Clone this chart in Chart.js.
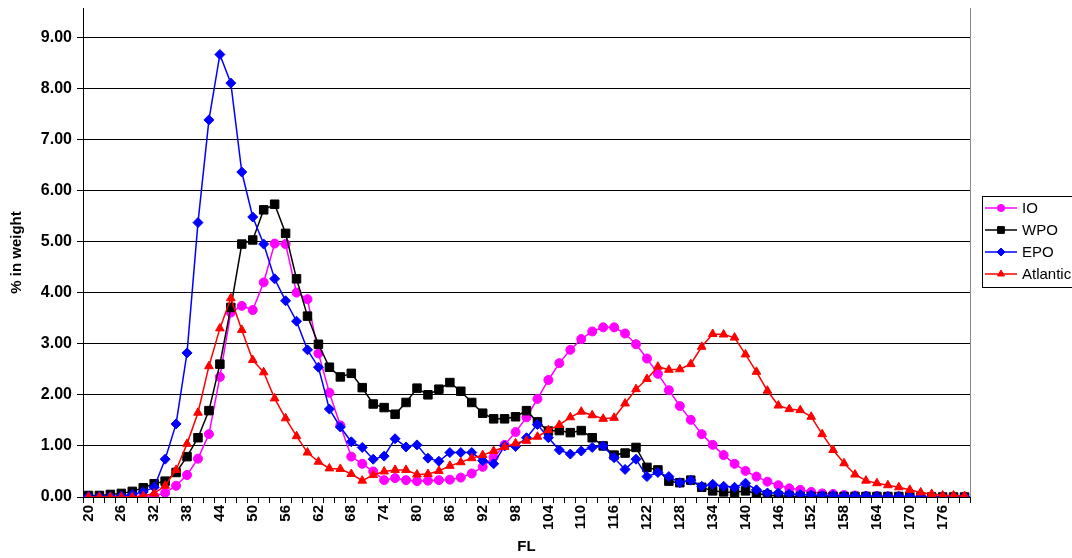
<!DOCTYPE html>
<html>
<head>
<meta charset="utf-8">
<script src="https://cdn.jsdelivr.net/npm/chart.js@4"></script>
<style>
  html, body { margin: 0; padding: 0; background: #fff; }
  canvas { display: block; }
</style>
</head>
<body>
<canvas id="flChart" width="1072" height="558"></canvas>
<script>
// FL classes (cm), every 2 cm
const fl = [20, 22, 24, 26, 28, 30, 32, 34, 36, 38, 40, 42, 44, 46, 48, 50, 52, 54, 56, 58,
  60, 62, 64, 66, 68, 70, 72, 74, 76, 78, 80, 82, 84, 86, 88, 90, 92, 94, 96, 98,
  100, 102, 104, 106, 108, 110, 112, 114, 116, 118, 120, 122, 124, 126, 128, 130, 132, 134, 136, 138,
  140, 142, 144, 146, 148, 150, 152, 154, 156, 158, 160, 162, 164, 166, 168, 170, 172, 174, 176, 178, 180];

// % in weight per series
const io = [0.00, 0.00, 0.00, 0.00, 0.00, 0.01, 0.02, 0.08, 0.22, 0.43, 0.75, 1.23, 2.35, 3.61, 3.74, 3.66, 4.20, 4.96, 4.95, 4.00,
  3.87, 2.81, 2.04, 1.40, 0.79, 0.65, 0.50, 0.33, 0.37, 0.33, 0.31, 0.32, 0.33, 0.34, 0.38, 0.46, 0.59, 0.78, 1.02, 1.27,
  1.56, 1.92, 2.29, 2.62, 2.88, 3.09, 3.24, 3.32, 3.32, 3.20, 2.99, 2.71, 2.41, 2.09, 1.78, 1.51, 1.23, 1.02, 0.82, 0.65,
  0.51, 0.40, 0.30, 0.23, 0.17, 0.14, 0.10, 0.07, 0.06, 0.04, 0.03, 0.02, 0.02, 0.01, 0.01, 0.01, 0.00, 0.00, 0.00, 0.00, 0.00];
const wpo = [0.03, 0.03, 0.05, 0.07, 0.11, 0.18, 0.26, 0.31, 0.48, 0.79, 1.16, 1.69, 2.60, 3.71, 4.95, 5.03, 5.62, 5.73, 5.16, 4.27,
  3.54, 2.99, 2.54, 2.35, 2.42, 2.14, 1.82, 1.75, 1.62, 1.85, 2.13, 2.00, 2.11, 2.24, 2.07, 1.85, 1.64, 1.53, 1.53, 1.57,
  1.69, 1.47, 1.29, 1.30, 1.26, 1.30, 1.16, 1.00, 0.82, 0.86, 0.97, 0.58, 0.53, 0.31, 0.28, 0.33, 0.19, 0.12, 0.10, 0.09,
  0.12, 0.07, 0.04, 0.02, 0.02, 0.01, 0.01, 0.01, 0.01, 0.01, 0.01, 0.01, 0.01, 0.01, 0.01, 0.01, 0.00, 0.00, 0.00, 0.00, 0.00];
const epo = [0.01, 0.01, 0.01, 0.02, 0.05, 0.10, 0.19, 0.74, 1.43, 2.82, 5.37, 7.38, 8.66, 8.10, 6.36, 5.48, 4.95, 4.27, 3.84, 3.44,
  2.88, 2.54, 1.72, 1.37, 1.08, 0.97, 0.74, 0.80, 1.14, 0.98, 1.02, 0.76, 0.70, 0.87, 0.87, 0.87, 0.71, 0.65, 1.00, 0.99,
  1.16, 1.42, 1.16, 0.92, 0.84, 0.90, 0.97, 1.00, 0.77, 0.54, 0.74, 0.40, 0.48, 0.40, 0.28, 0.33, 0.21, 0.25, 0.21, 0.19,
  0.27, 0.14, 0.08, 0.08, 0.06, 0.05, 0.04, 0.03, 0.03, 0.02, 0.02, 0.02, 0.01, 0.01, 0.01, 0.01, 0.01, 0.01, 0.01, 0.01, 0.01];
const atlantic = [0.00, 0.00, 0.00, 0.00, 0.00, 0.02, 0.07, 0.22, 0.53, 1.04, 1.65, 2.56, 3.30, 3.89, 3.27, 2.68, 2.44, 1.93, 1.54, 1.19,
  0.87, 0.69, 0.56, 0.55, 0.45, 0.32, 0.43, 0.50, 0.53, 0.53, 0.44, 0.45, 0.51, 0.61, 0.68, 0.76, 0.82, 0.90, 0.98, 1.05,
  1.10, 1.18, 1.31, 1.41, 1.56, 1.67, 1.60, 1.53, 1.55, 1.83, 2.11, 2.31, 2.55, 2.49, 2.50, 2.60, 2.94, 3.19, 3.18, 3.12,
  2.79, 2.45, 2.08, 1.79, 1.72, 1.70, 1.57, 1.23, 0.92, 0.66, 0.44, 0.32, 0.27, 0.23, 0.19, 0.14, 0.09, 0.06, 0.03, 0.03, 0.02];

const yTicks = [0, 1, 2, 3, 4, 5, 6, 7, 8, 9];

Chart.defaults.font.family = '"Liberation Sans", Arial, sans-serif';
Chart.defaults.color = '#000';

function series(label, data, color, style, radius, order) {
  return {
    label: label,
    data: data,
    borderColor: color,
    backgroundColor: color,
    borderWidth: 1.5,
    pointStyle: style,
    pointRadius: radius,
    pointBorderWidth: 1,
    pointBackgroundColor: color,
    pointBorderColor: color,
    tension: 0,
    order: order
  };
}

// right edge of the plot area
const plotFrame = {
  id: 'plotFrame',
  afterDatasetsDraw(chart) {
    const { ctx, chartArea } = chart;
    ctx.save();
    ctx.strokeStyle = '#888';
    ctx.lineWidth = 1;
    ctx.beginPath();
    ctx.moveTo(Math.round(chartArea.right) + 0.5, chartArea.top);
    ctx.lineTo(Math.round(chartArea.right) + 0.5, chartArea.bottom);
    ctx.stroke();
    ctx.restore();
  }
};

// boxed legend on the right, line + marker like the original
const boxLegend = {
  id: 'boxLegend',
  afterDraw(chart) {
    const ctx = chart.ctx;
    const left = 982.5, top = 196.5;
    ctx.save();
    ctx.strokeStyle = '#000';
    ctx.lineWidth = 1;
    ctx.strokeRect(left, top, 100, 91);
    ctx.font = '15px "Liberation Sans", Arial, sans-serif';
    ctx.textBaseline = 'middle';
    chart.data.datasets.forEach(function (ds, i) {
      const y = 208 + i * 22;
      ctx.strokeStyle = ds.borderColor;
      ctx.fillStyle = ds.borderColor;
      ctx.lineWidth = 1.5;
      ctx.beginPath();
      ctx.moveTo(985, y);
      ctx.lineTo(1017, y);
      ctx.stroke();
      ctx.lineWidth = 1;
      Chart.helpers.drawPoint(ctx, {
        pointStyle: ds.pointStyle,
        radius: ds.pointRadius * 0.8,
        rotation: 0,
        borderWidth: 1
      }, 1001, y);
      ctx.fillStyle = '#000';
      ctx.fillText(ds.label, 1022, y + 1);
    });
    ctx.restore();
  }
};

new Chart(document.getElementById('flChart').getContext('2d'), {
  type: 'line',
  data: {
    labels: fl,
    datasets: [
      series('IO', io, '#FF00FF', 'circle', 4.5, 4),
      series('WPO', wpo, '#000000', 'rect', 6, 3),
      series('EPO', epo, '#0000FF', 'rectRot', 5, 2),
      series('Atlantic', atlantic, '#FF0000', 'triangle', 5, 1)
    ]
  },
  options: {
    responsive: false,
    animation: false,
    layout: { padding: { top: 8, right: 102, left: 0, bottom: 0 } },
    plugins: {
      legend: { display: false },
      tooltip: { enabled: false }
    },
    scales: {
      x: {
        type: 'category',
        offset: true,
        afterFit: function (scale) { scale.height = 61; },
        grid: {
          offset: true,
          drawOnChartArea: false,
          drawTicks: true,
          tickLength: 6,
          color: '#000'
        },
        border: { color: '#000', width: 1 },
        ticks: {
          autoSkip: false,
          maxRotation: 90,
          minRotation: 90,
          padding: 2,
          font: { size: 15, weight: 'bold' },
          callback: function (val, idx) {
            return idx % 3 === 0 ? String(fl[idx]) : '';
          }
        },
        title: {
          display: true,
          text: 'FL',
          font: { size: 15, weight: 'bold' },
          padding: { top: 1, bottom: 2 }
        }
      },
      y: {
        min: 0,
        max: 9.57,
        afterFit: function (scale) {
          scale.width = 83;
          scale.paddingTop = 0;
          scale.paddingBottom = 0;
        },
        afterBuildTicks: function (axis) {
          axis.ticks = yTicks.map(function (v) { return { value: v }; });
        },
        grid: {
          color: '#000',
          lineWidth: 1,
          tickLength: 6
        },
        border: { color: '#000', width: 1 },
        ticks: {
          padding: 5,
          font: { size: 16, weight: 'bold' },
          callback: function (v) { return Number(v).toFixed(2); }
        },
        title: {
          display: true,
          text: '% in weight',
          font: { size: 15, weight: 'bold' },
          padding: { top: 8, bottom: 4 }
        }
      }
    }
  },
  plugins: [plotFrame, boxLegend]
});
</script>
</body>
</html>
